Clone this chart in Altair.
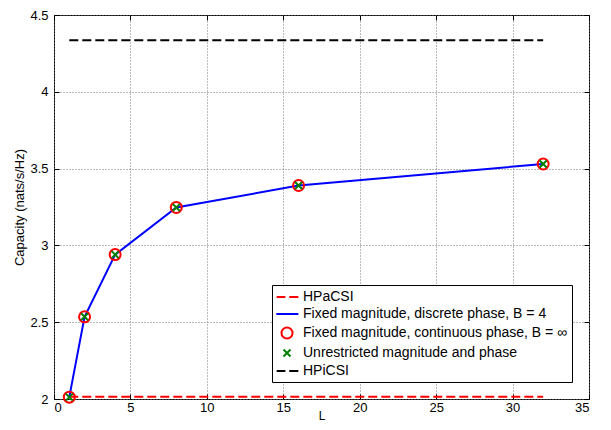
import altair as alt
import pandas as pd

# ---- data ----
L_vals = [1, 2, 4, 8, 16, 32]
discrete_phase = [2.012, 2.535, 2.94, 3.247, 3.39, 3.53]
continuous_phase = [2.012, 2.535, 2.94, 3.247, 3.39, 3.53]
unrestricted = [2.012, 2.535, 2.94, 3.247, 3.39, 3.53]
hpacsi_L = [1, 32]
hpacsi = [2.014, 2.014]
hpicsi_L = [1, 32]
hpicsi = [4.335, 4.335]

series_names = [
    "HPaCSI",
    "Fixed magnitude, discrete phase, B = 4",
    "Fixed magnitude, continuous phase, B = \u221e",
    "Unrestricted magnitude and phase",
    "HPiCSI",
]
series_colors = ["#ff0000", "#0000ff", "#ff0000", "#008000", "#000000"]
x_ticks = [0, 5, 10, 15, 20, 25, 30, 35]
y_ticks = [2, 2.5, 3, 3.5, 4, 4.5]

FONT = "Liberation Sans"

# legend symbol paths (unit = half of sqrt(symbolSize))
legend_paths = [
    "M-1.05,0H0.2M0.75,0H2.05",
    "M-1.1,0H2.05",
    "M1.22,0A0.79,0.79 0 1,1 -0.36,0A0.79,0.79 0 1,1 1.22,0",
    "M-0.07,-0.5L0.93,0.5M-0.07,0.5L0.93,-0.5",
    "M-1.05,0H0.2M0.75,0H2.05",
]
x_path = "M-1,-1L1,1M-1,1L1,-1"

df_main = pd.DataFrame({"L": L_vals, "discrete": discrete_phase,
                        "continuous": continuous_phase, "unres": unrestricted})
df_a = pd.DataFrame({"L": hpacsi_L, "C": hpacsi})
df_i = pd.DataFrame({"L": hpicsi_L, "C": hpicsi})
df_leg = pd.DataFrame({"series": series_names, "L": [-10] * 5, "C": [0] * 5})

xs = alt.Scale(domain=[0, 35], nice=False, zero=False)
ys = alt.Scale(domain=[2, 4.5], nice=False, zero=False)

x_axis = alt.Axis(values=x_ticks, title="L", offset=-5, tickSize=5, domain=False,
                  grid=True, gridDash=[1, 2], gridColor="#777777", gridOpacity=1,
                  labelPadding=2, titlePadding=-4, titleFontSize=12, format="~g")
y_axis = alt.Axis(values=y_ticks, title="Capacity (nats/s/Hz)", offset=-5, tickSize=5,
                  domain=False, grid=True, gridDash=[1, 2], gridColor="#777777",
                  gridOpacity=1, labelPadding=6, titlePadding=3, titleFontSize=13,
                  format="~g")
x_top = alt.Axis(values=x_ticks, orient="top", offset=-5, tickSize=5, domain=False,
                 grid=False, labels=False, title=None)
y_right = alt.Axis(values=y_ticks, orient="right", offset=-5, tickSize=5, domain=False,
                   grid=False, labels=False, title=None)

red_line = alt.Chart(df_a).mark_line(color="#ff0000", strokeDash=[9, 4], strokeWidth=2).encode(
    x=alt.X("L:Q", scale=xs, axis=x_axis),
    y=alt.Y("C:Q", scale=ys, axis=y_axis),
)
blue_line = alt.Chart(df_main).mark_line(color="#0000ff", strokeWidth=2).encode(
    x=alt.X("L:Q", scale=xs, axis=None),
    y=alt.Y("discrete:Q", scale=ys, axis=None),
)
circles = alt.Chart(df_main).mark_point(shape="circle", filled=False, color="#ff0000",
                                         size=121, strokeWidth=2, opacity=1).encode(
    x=alt.X("L:Q", scale=xs, axis=None),
    y=alt.Y("continuous:Q", scale=ys, axis=None),
)
crosses = alt.Chart(df_main).mark_point(shape=x_path, filled=False, color="#008000",
                                         size=49, strokeWidth=2, opacity=1).encode(
    x=alt.X("L:Q", scale=xs, axis=None),
    y=alt.Y("unres:Q", scale=ys, axis=None),
)
black_line = alt.Chart(df_i).mark_line(color="#000000", strokeDash=[9, 4], strokeWidth=2).encode(
    x=alt.X("L:Q", scale=xs, axis=x_top),
    y=alt.Y("C:Q", scale=ys, axis=y_right),
)

leg = alt.Legend(title=None, orient="none", legendX=218, legendY=270,
                 padding=4, fillColor="white", strokeColor="black",
                 symbolSize=196, symbolStrokeWidth=2,
                 symbolFillColor="transparent", labelOffset=11, rowPadding=2,
                 labelFont=FONT, labelFontSize=14, labelColor="black", labelLimit=400)
legend_layer = alt.Chart(df_leg).mark_point(filled=False, clip=True, size=196,
                                             strokeWidth=2, opacity=1).encode(
    x=alt.X("L:Q", scale=xs, axis=None),
    y=alt.Y("C:Q", scale=ys, axis=None),
    color=alt.Color("series:N", scale=alt.Scale(domain=series_names, range=series_colors), legend=leg),
    shape=alt.Shape("series:N", scale=alt.Scale(domain=series_names, range=legend_paths), legend=leg),
)

chart = alt.layer(red_line, blue_line, circles, crosses, black_line, legend_layer).resolve_axis(
    x="independent", y="independent"
).properties(
    width=535, height=384,
    autosize=alt.AutoSizeParams(type="none"),
    padding={"left": 46, "top": 7, "right": 14, "bottom": 22},
).configure_view(
    stroke="black", strokeWidth=1
).configure_axis(
    labelFont=FONT, labelFontSize=13, labelColor="black",
    titleFont=FONT, titleFontWeight="normal", titleColor="black",
    tickColor="black", tickWidth=1,
).configure_legend(
    strokeWidth=1, cornerRadius=0
)

chart.save("out.html", embed_options={"renderer": "svg", "actions": False})
